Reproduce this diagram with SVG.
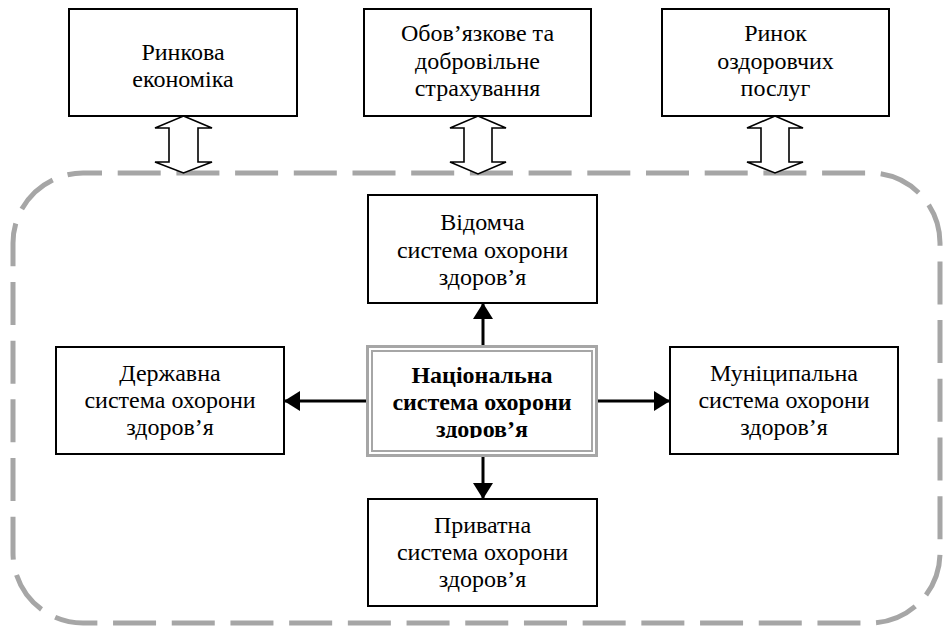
<svg xmlns="http://www.w3.org/2000/svg" width="943" height="629" viewBox="0 0 943 629">
<defs>
<style>
.box{fill:#fff;stroke:#000;stroke-width:2}
text{font-family:'Liberation Serif','Times New Roman','DejaVu Serif',serif;font-size:24px;fill:#000;text-anchor:middle}
.b{font-weight:bold}
.dbl{fill:#fff;stroke:#000;stroke-width:1.6;stroke-linejoin:miter}
.ln{stroke:#000;stroke-width:3;fill:none}
.frame{fill:none;stroke:#a6a6a6;stroke-width:5;stroke-dasharray:43 15.7}
</style>
<marker id="ah" viewBox="0 0 16 20" refX="16" refY="10" markerWidth="16" markerHeight="20" markerUnits="userSpaceOnUse" orient="auto">
<path d="M0,0 L16,10 L0,20 Z" fill="#000"/>
</marker>
<clipPath id="cc" clipPathUnits="userSpaceOnUse"><rect x="366" y="345" width="232" height="93"/></clipPath>
</defs>
<rect width="943" height="629" fill="#fff"/>

<path class="frame" stroke-dashoffset="24" d="M83,173 H870 A70,70 0 0 1 940,243 V553 A70,70 0 0 1 870,623 H83 A70,70 0 0 1 13,553 V243 A70,70 0 0 1 83,173 Z"/>

<g font-family="Liberation Serif, serif">
<g id="n1"><rect class="box" x="69" y="9" width="228" height="107"/>
<text x="183" y="59.5">Ринкова</text><text x="183" y="86.5">економіка</text></g>
<g id="n2"><rect class="box" x="364" y="9" width="227" height="107"/>
<text x="477.5" y="41">Обов’язкове та</text><text x="477.5" y="68.5">добровільне</text><text x="477.5" y="96">страхування</text></g>
<g id="n3"><rect class="box" x="662" y="9" width="227" height="107"/>
<text x="775.5" y="41">Ринок</text><text x="775.5" y="68.5">оздоровчих</text><text x="775.5" y="96">послуг</text></g>

<g id="n4"><rect class="box" x="368" y="195" width="229" height="108"/>
<text x="482.5" y="230">Відомча</text><text x="482.5" y="257.5">система охорони</text><text x="482.5" y="285">здоров’я</text></g>
<g id="n5"><rect class="box" x="56" y="347" width="228" height="107"/>
<text x="170" y="381">Державна</text><text x="170" y="408">система охорони</text><text x="170" y="435">здоров’я</text></g>
<g id="n6"><rect class="box" x="670" y="347" width="228" height="107"/>
<text x="784" y="381">Муніципальна</text><text x="784" y="408">система охорони</text><text x="784" y="435">здоров’я</text></g>
<g id="n7"><rect class="box" x="368" y="499" width="229" height="107"/>
<text x="482.5" y="533">Приватна</text><text x="482.5" y="560">система охорони</text><text x="482.5" y="587">здоров’я</text></g>

<g id="n0">
<rect x="367.5" y="346.5" width="229" height="109" fill="#fff" stroke="#a6a6a6" stroke-width="3"/>
<rect x="372" y="351" width="220" height="100" fill="none" stroke="#a6a6a6" stroke-width="2"/>
<g clip-path="url(#cc)">
<text class="b" x="482" y="382.5">Національна</text><text class="b" x="482" y="409.5">система охорони</text><text class="b" x="482" y="436.5">здоров’я</text>
</g>
</g>
</g>

<g id="connectors">
<path class="dbl" d="M183.5,116 L212,128 L198,128 L198,162 L212,162 L183.5,173 L155,162 L169,162 L169,128 L155,128 Z"/>
<path class="dbl" d="M478,116 L506,128 L492,128 L492,162 L506,162 L478,174 L450,162 L464,162 L464,128 L450,128 Z"/>
<path class="dbl" d="M775,116 L803,128 L789,128 L789,162 L803,162 L775,173 L747,162 L761,162 L761,128 L747,128 Z"/>
<line class="ln" x1="483" y1="345" x2="483" y2="303" marker-end="url(#ah)"/>
<line class="ln" x1="366" y1="401" x2="284" y2="401" marker-end="url(#ah)"/>
<line class="ln" x1="598" y1="401" x2="670" y2="401" marker-end="url(#ah)"/>
<line class="ln" x1="483" y1="457" x2="483" y2="499" marker-end="url(#ah)"/>
</g>
</svg>
